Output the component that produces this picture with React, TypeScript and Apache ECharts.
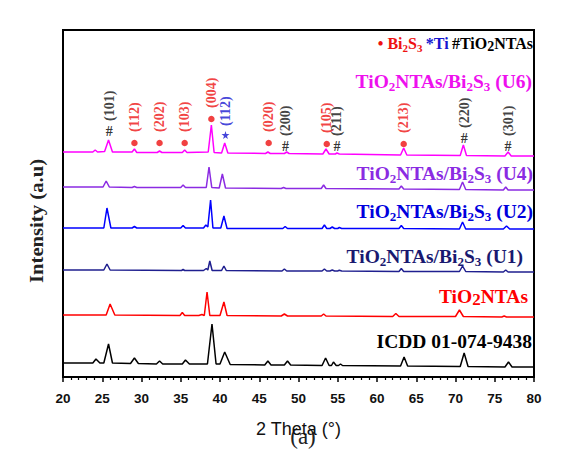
import React, { useEffect, useRef } from "react";
import * as echarts from "echarts";

// 2θ (degrees) vs intensity (a.u., stacked offsets as drawn)
const icdd: number[][] = [
  [20, 14], [23.8, 14], [24.2, 18], [24.7, 14], [25.2, 14], [25.8, 33], [26.3, 14],
  [28.6, 13.5], [29.1, 19], [29.6, 13.5], [31.9, 13], [32.3, 16], [32.7, 13],
  [35.2, 13], [35.6, 17], [36.1, 13], [38.4, 13], [38.98, 53], [39.5, 13],
  [40.0, 13], [40.6, 25], [41.3, 12.5], [45.7, 12], [46.1, 16], [46.5, 12],
  [48.2, 12], [48.6, 16], [49.0, 12], [53.0, 11.5], [53.45, 19], [53.9, 11.5],
  [54.2, 11.5], [54.45, 15], [54.8, 11.5], [55.1, 11.5], [55.35, 13], [55.6, 11.5],
  [63.0, 11], [63.45, 20], [63.9, 11], [70.6, 10.5], [71.1, 24], [71.6, 10.5],
  [76.3, 10], [76.75, 15], [77.2, 10], [80, 10],
];
const tio2: number[][] = [
  [20, 62], [25.5, 62], [26.0, 73], [26.6, 62], [34.9, 61.5], [35.2, 64.5], [35.5, 61.5],
  [37.3, 61.5], [37.7, 62.5], [38.0, 61.5], [38.35, 85], [38.7, 61.5], [40.0, 61.5],
  [40.5, 75], [40.9, 61.5], [47.8, 61], [48.2, 63], [48.6, 61], [52.9, 61], [53.2, 63],
  [53.5, 61], [62.0, 60.5], [62.4, 63.5], [62.8, 60.5], [70.0, 60.5], [70.5, 67],
  [71.0, 60.5], [75.9, 60], [76.2, 61], [76.5, 60], [80, 60],
];
const u1: number[][] = [
  [20, 107], [25.2, 107], [25.6, 113], [26.0, 107], [35.1, 106.5], [35.3, 107.5], [35.5, 106.5],
  [37.9, 106.5], [38.25, 108.5], [38.45, 107], [38.7, 116], [39.0, 106.5], [40.2, 106.5],
  [40.5, 111], [40.8, 106.5], [47.9, 106], [48.2, 108], [48.5, 106], [53.0, 106], [53.3, 108],
  [53.6, 106], [54.0, 106], [54.3, 107], [54.6, 106], [55.0, 106], [55.2, 106.8], [55.5, 106],
  [62.8, 105.5], [63.1, 108.5], [63.4, 105.5], [70.5, 105.5], [70.9, 111], [71.3, 105.5],
  [76.1, 105], [76.4, 107], [76.7, 105], [80, 105],
];
const u2: number[][] = [
  [20, 149], [25.2, 149], [25.6, 169], [26.1, 149], [28.8, 149], [29.1, 150.5], [29.4, 149],
  [35.0, 149], [35.3, 151.5], [35.6, 149], [37.9, 149], [38.2, 152], [38.45, 150],
  [38.8, 177], [39.1, 149], [40.1, 149], [40.5, 161], [40.9, 148.5], [48.0, 148.5],
  [48.3, 150.5], [48.6, 148.5], [53.0, 148.5], [53.3, 152], [53.6, 148.5], [54.0, 148.5],
  [54.3, 150], [54.6, 148.5], [55.0, 148.5], [55.2, 149.5], [55.5, 148.5], [62.8, 148.5],
  [63.1, 151.5], [63.4, 148.5], [70.5, 148], [70.9, 155], [71.3, 148], [76.1, 148],
  [76.5, 151], [76.9, 148], [80, 148],
];
const u4: number[][] = [
  [20, 190], [25.1, 190], [25.5, 196], [25.9, 190], [28.8, 189.5], [29.1, 190.5], [29.4, 189.5],
  [35.0, 189.5], [35.3, 192], [35.6, 189.5], [38.25, 189.5], [38.6, 210], [38.95, 189.5],
  [39.9, 189], [40.3, 203], [40.7, 189], [47.8, 188.5], [48.1, 189.5], [48.4, 188.5],
  [52.9, 188.5], [53.2, 192], [53.5, 188.5], [62.8, 188], [63.1, 191], [63.4, 188],
  [70.5, 187.5], [70.9, 195], [71.3, 187.5], [76.1, 187], [76.4, 190], [76.7, 187], [80, 187],
];
const u6: number[][] = [
  [20, 225], [23.8, 225], [24.1, 227], [24.4, 225], [25.3, 225.5], [25.8, 237], [26.3, 225],
  [28.8, 225], [29.1, 228], [29.4, 224.5], [32.0, 224.5], [32.3, 226], [32.6, 224.5],
  [35.2, 224.5], [35.5, 227], [35.8, 224.5], [38.5, 225], [38.9, 252], [39.25, 224.5],
  [40.2, 224], [40.6, 234], [41.0, 224], [45.8, 223.5], [46.1, 225], [46.4, 223.5],
  [48.2, 223.5], [48.5, 225], [48.8, 223.5], [53.1, 223], [53.5, 228], [53.9, 223],
  [54.7, 223], [54.9, 224], [55.2, 223], [63.0, 222], [63.4, 229], [63.8, 222],
  [70.6, 221.5], [71.0, 232], [71.4, 221.5], [76.3, 221], [76.7, 225], [77.1, 221], [80, 221],
];

// reflections: [2θ, marker level, hkl]
const tio2Refl: (number | string)[][] = [
  [25.9, 246, "(101)"], [48.35, 231, "(200)"], [54.9, 231, "(211)"], [71.1, 239, "(220)"], [76.7, 231, "(301)"],
];
const bi2s3Refl: (number | string)[][] = [
  [29.1, 234, "(112)"], [32.3, 234, "(202)"], [35.5, 234, "(103)"], [38.9, 258, "(004)"],
  [46.2, 234, "(020)"], [53.6, 233, "(105)"], [63.4, 233, "(213)"],
];
const tiRefl: (number | string)[][] = [[40.7, 242, "(112)"]];

const SERIF = "'Liberation Serif', 'Times New Roman', serif";
const SANS = "'Liberation Sans', Arial, sans-serif";

function subLabel(parts: string[][], color: string, size: number, subSize: number) {
  const rich: any = {
    a: { fontFamily: SERIF, fontWeight: "bold", fontSize: size, fill: color, lineHeight: 28 },
    s: { fontFamily: SERIF, fontWeight: "bold", fontSize: subSize, fill: color, lineHeight: 28, padding: [11, 0, 0, 0] },
  };
  const text = parts.map(([k, t]) => `{${k}|${t}}`).join("");
  return { text, rich };
}

const compParts = (tag: string) => [["a", "TiO"], ["s", "2"], ["a", "NTAs/Bi"], ["s", "2"], ["a", "S"], ["s", "3"], ["a", ` (${tag})`]];

export default function App() {
  const ref = useRef<HTMLDivElement>(null);
  useEffect(() => {
    document.body.style.margin = "0";
    const chart = echarts.init(ref.current!, undefined, { renderer: "svg" });
    const lineSeries = (name: string, data: number[][], color: string) => ({
      name, type: "line", data, showSymbol: false, symbol: "none", smooth: false,
      lineStyle: { color, width: 1.5 }, z: 2, silent: true,
    });
    const hklLabels = (data: any[], color: string, dist: number) => ({
      type: "scatter", data, symbol: "circle", symbolSize: 0.1, itemStyle: { color: "rgba(0,0,0,0)" }, z: 5,
      label: {
        show: true, position: "top", distance: dist, rotate: 90, align: "left", verticalAlign: "middle",
        formatter: (p: any) => p.data[2], color, fontFamily: SERIF, fontWeight: "bold", fontSize: 14,
      },
    });
    const labelGraphic = (parts: string[][], color: string, x: number, y: number) => {
      const l = subLabel(parts, color, 19.5, 13);
      return { type: "text", x, y, style: { text: l.text, rich: l.rich, align: "right", verticalAlign: "middle" } };
    };
    const option: any = {
      animation: false,
      grid: { left: 63, right: 35, top: 30, bottom: 87, show: true, borderColor: "#000", borderWidth: 2 },
      xAxis: {
        type: "value", min: 20, max: 80, interval: 5,
        name: "2 Theta (°)", nameLocation: "middle", nameGap: 43,
        nameTextStyle: { fontFamily: SANS, fontSize: 18, color: "#111" },
        axisLine: { onZero: false, lineStyle: { color: "#000", width: 2 } },
        axisTick: { show: true, length: 5, lineStyle: { color: "#000", width: 1.5 } },
        minorTick: { show: true, splitNumber: 5, length: 3, lineStyle: { color: "#000", width: 1.2 } },
        axisLabel: { fontFamily: SANS, fontWeight: "bold", fontSize: 13.5, color: "#111", margin: 14 },
        splitLine: { show: false },
      },
      yAxis: {
        type: "value", min: 0, max: 347,
        axisLine: { show: true, lineStyle: { color: "#000", width: 2 } },
        axisTick: { show: false }, axisLabel: { show: false }, splitLine: { show: false },
      },
      series: [
        lineSeries("ICDD 01-074-9438", icdd, "#000000"),
        lineSeries("TiO2NTAs", tio2, "#ff0000"),
        lineSeries("TiO2NTAs/Bi2S3 (U1)", u1, "#1f1f8f"),
        lineSeries("TiO2NTAs/Bi2S3 (U2)", u2, "#0000ff"),
        lineSeries("TiO2NTAs/Bi2S3 (U4)", u4, "#8b2be2"),
        lineSeries("TiO2NTAs/Bi2S3 (U6)", u6, "#ff00ff"),
        {
          type: "scatter", data: bi2s3Refl, symbol: "circle", symbolSize: 6.5, itemStyle: { color: "#ee1111" }, z: 5,
        },
        {
          type: "scatter", data: tiRefl, z: 5, symbolSize: 8,
          symbol: "path://M50,0 L61,35 L98,35 L68,57 L79,91 L50,70 L21,91 L32,57 L2,35 L39,35 Z",
          itemStyle: { color: "#1515d0" },
        },
        {
          type: "scatter", data: tio2Refl, symbol: "circle", symbolSize: 0.1, itemStyle: { color: "rgba(0,0,0,0)" }, z: 5,
          label: { show: true, position: "inside", formatter: "#", color: "#000", fontFamily: SERIF, fontWeight: "bold", fontSize: 14 },
        },
        hklLabels(bi2s3Refl, "#ee1111", 11),
        hklLabels(tiRefl, "#1515d0", 9),
        hklLabels(tio2Refl, "#111111", 10),
      ],
      graphic: [
        {
          type: "text", x: 37, y: 221, rotation: Math.PI / 2, scaleX: 1.15,
          style: { text: "Intensity (a.u)", font: `bold 18px ${SERIF}`, fill: "#222", align: "center", verticalAlign: "middle" },
        },
        {
          type: "text", x: 303, y: 436,
          style: { text: "(a)", font: `23px ${SERIF}`, fill: "#222", align: "center", verticalAlign: "middle" },
        },
        {
          type: "text", x: 533, y: 43,
          style: {
            align: "right", verticalAlign: "middle",
            text: "{r|• Bi}{rs|2}{r|S}{rs|3} {b|*Ti} {k|#TiO}{k2|2}{k|NTAs}",
            rich: {
              r: { fontFamily: SERIF, fontWeight: "bold", fontSize: 16, fill: "#ee1111", lineHeight: 24 },
              rs: { fontFamily: SERIF, fontWeight: "bold", fontSize: 11, fill: "#ee1111", lineHeight: 24, padding: [9, 0, 0, 0] },
              b: { fontFamily: SERIF, fontWeight: "bold", fontSize: 16, fill: "#1515d0", lineHeight: 24 },
              k: { fontFamily: SERIF, fontWeight: "bold", fontSize: 16, fill: "#000", lineHeight: 24 },
              k2: { fontFamily: SERIF, fontWeight: "bold", fontSize: 14, fill: "#000", lineHeight: 24, padding: [6, 0, 0, 0] },
            },
          },
        },
        labelGraphic(compParts("U6"), "#ee10ee", 532, 81),
        labelGraphic(compParts("U4"), "#8a2be2", 533, 173),
        labelGraphic(compParts("U2"), "#0000dd", 533, 211),
        labelGraphic(compParts("U1"), "#191970", 523, 256),
        {
          type: "text", x: 528, y: 296,
          style: {
            align: "right", verticalAlign: "middle",
            text: "{a|TiO}{s|2}{a|NTAs}",
            rich: {
              a: { fontFamily: SERIF, fontWeight: "bold", fontSize: 19.5, fill: "#ff0000", lineHeight: 28 },
              s: { fontFamily: SERIF, fontWeight: "bold", fontSize: 17, fill: "#ff0000", lineHeight: 28, padding: [6, 0, 0, 0] },
            },
          },
        },
        {
          type: "text", x: 532, y: 341,
          style: { text: "ICDD 01-074-9438", font: `bold 19.5px ${SERIF}`, fill: "#000", align: "right", verticalAlign: "middle" },
        },
      ],
    };
    chart.setOption(option);
    return () => chart.dispose();
  }, []);
  return <div ref={ref} style={{ width: 569, height: 464 }} />;
}
